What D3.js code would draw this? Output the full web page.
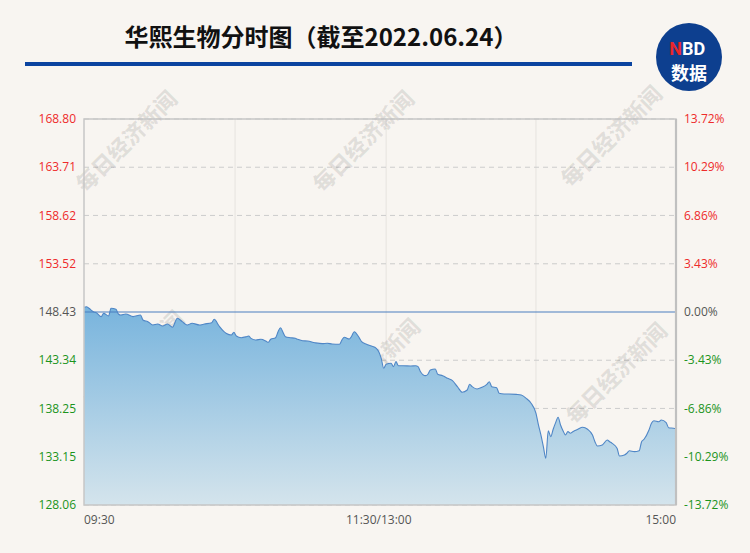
<!DOCTYPE html>
<html>
<head>
<meta charset="utf-8">
<script src="https://cdn.jsdelivr.net/npm/d3@7/dist/d3.min.js"></script>
<style>
html,body{margin:0;padding:0;background:#f8f5f1;}
svg{display:block;}
</style>
</head>
<body>
<svg id="chart" width="750" height="553"></svg>
<script>
// ---- data ----
const titleText = "华熙生物分时图（截至2022.06.24）";
const prevClose = 148.43;
const priceTicks = [168.80, 163.71, 158.62, 153.52, 148.43, 143.34, 138.25, 133.15, 128.06];
const pctTicks = ["13.72%", "10.29%", "6.86%", "3.43%", "0.00%", "-3.43%", "-6.86%", "-10.29%", "-13.72%"];
const timeLabels = ["09:30", "11:30/13:00", "15:00"];
const timeLabelMinutes = [0, 120, 241];
const gridMinutes = [61.5, 123, 184];
// minute index since 09:30 (trading minutes, 0..241)
const minutes = [0,1,2,4,5,7,8,10,11,13,14,15,17,20,23,24,26,28,30,32,34,36,38,40,42,44,47,49,52,53,55,57,58,60,61,62,64,66,67,68,70,72,74,75,76,78,79,80,81,82,84,86,87,89,91,94,97,99,101,104,105,106,108,109,110,112,113,115,117,119,120,121,122,123,125,126,127,128,130,133,135,136,137,139,140,141,143,144,146,148,150,152,154,156,157,158,160,162,164,165,166,168,169,171,173,176,178,180,182,184,185,186,187,188,189,190,191,192,193,194,195,196,197,198,199,201,203,205,207,208,209,211,213,214,215,217,218,220,221,222,224,226,227,228,230,231,232,234,235,237,238,240,241];
const prices = [148.93,148.99,148.82,148.43,148.36,147.94,148.29,148.01,148.82,148.72,148.22,148.11,148.22,147.94,148.11,147.59,147.41,147.06,147.16,146.95,147.16,146.82,147.77,147.41,147.06,147.24,147.06,147.16,147.30,147.66,146.95,146.35,146.16,146.00,146.29,145.90,145.72,145.82,145.90,145.65,145.48,145.55,145.37,145.23,145.55,145.72,146.35,146.77,146.29,145.82,145.72,145.65,145.55,145.40,145.37,145.19,145.09,145.13,145.05,145.02,145.48,145.76,145.58,145.90,146.35,145.72,145.30,145.02,144.84,144.60,144.24,143.54,142.49,142.91,143.02,142.66,143.19,142.76,142.76,142.73,142.76,142.66,142.13,141.71,141.86,142.31,142.42,141.86,141.71,141.43,141.18,140.55,139.96,140.20,140.80,140.55,140.30,140.48,140.80,141.07,140.55,140.44,139.85,139.78,139.78,139.74,139.67,139.32,138.80,137.74,136.51,135.45,134.22,132.99,135.90,135.27,136.05,136.75,137.32,136.51,135.90,135.45,135.80,135.63,135.80,136.05,136.26,136.05,135.45,134.74,134.29,134.39,134.92,134.74,134.57,134.05,133.23,133.34,133.52,133.79,133.69,133.79,134.74,135.00,135.98,136.68,136.96,136.85,137.03,136.75,136.22,136.16,136.11];
const watermark = "每日经济新闻";
const watermarkCenters = [[125,140],[362,140],[610,135],[132,360],[368,368],[615,372]];

// ---- layout ----
const svg = d3.select("#chart");
const W = 750, H = 553;
const L = 84, R = 676, T = 119, B = 505;
const RED = "#ee2b2b", GREEN = "#1c941c", GREY = "#555555";

svg.append("rect").attr("width", W).attr("height", H).attr("fill", "#f8f5f1");

const x = d3.scaleLinear().domain([0, 241]).range([L, R]);
const y = d3.scaleLinear().domain([priceTicks[priceTicks.length-1], priceTicks[0]]).range([B, T]);

const data = minutes.map((m, i) => ({m, p: prices[i]}));

// gradient
const defs = svg.append("defs");
const grad = defs.append("linearGradient").attr("id", "areaGrad")
  .attr("gradientUnits", "userSpaceOnUse")
  .attr("x1", 0).attr("x2", 0).attr("y1", y(d3.max(prices))).attr("y2", B);
grad.append("stop").attr("offset", "0%").attr("stop-color", "#78b4dd");
grad.append("stop").attr("offset", "100%").attr("stop-color", "#d4e4ec");

// vertical grid
svg.append("g").selectAll("line").data(gridMinutes).join("line")
  .attr("x1", d => x(d)).attr("x2", d => x(d)).attr("y1", T).attr("y2", B)
  .attr("stroke", "#e6e3df").attr("stroke-width", 1);

// horizontal dashed grid
svg.append("g").selectAll("line").data(priceTicks.filter(v => v !== prevClose)).join("line")
  .attr("x1", L).attr("x2", R).attr("y1", d => y(d)).attr("y2", d => y(d))
  .attr("stroke", "#cccccc").attr("stroke-width", 1).attr("stroke-dasharray", "5,4");

// watermarks
const wm = svg.append("g");
watermarkCenters.forEach(c => {
  wm.append("text").attr("transform", `translate(${c[0]},${c[1]}) rotate(-45)`)
    .attr("text-anchor", "middle").attr("dominant-baseline", "central")
    .attr("font-family", "Noto Sans CJK SC").attr("font-weight", "900")
    .attr("font-size", 22).attr("fill", "#000").attr("fill-opacity", 0.09)
    .text(watermark);
});

// area + line
const curve = d3.curveMonotoneX;
const area = d3.area().x(d => x(d.m)).y0(B).y1(d => y(d.p)).curve(curve);
const line = d3.line().x(d => x(d.m)).y(d => y(d.p)).curve(curve);
svg.append("path").datum(data).attr("d", area).attr("fill", "url(#areaGrad)");

// baseline (prev close)
svg.append("line").attr("x1", L).attr("x2", R).attr("y1", y(prevClose)).attr("y2", y(prevClose))
  .attr("stroke", "#4a7fc0").attr("stroke-width", 1.2);

svg.append("path").datum(data).attr("d", line).attr("fill", "none")
  .attr("stroke", "#4f86c6").attr("stroke-width", 1.1);

// plot border
svg.append("rect").attr("x", L).attr("y", T).attr("width", R - L).attr("height", B - T)
  .attr("fill", "none").attr("stroke", "#c6c6c6").attr("stroke-width", 1.5);
svg.append("line").attr("x1", R).attr("x2", R).attr("y1", T).attr("y2", B)
  .attr("stroke", "#c0c0c0").attr("stroke-width", 2.2);

// y labels
const colorFor = v => v > prevClose ? RED : (v < prevClose ? GREEN : GREY);
svg.append("g").selectAll("text").data(priceTicks).join("text")
  .attr("x", L - 8).attr("y", d => y(d)).attr("dy", "0.35em")
  .attr("text-anchor", "end").attr("font-family", "Open Sans, Noto Sans, sans-serif").attr("font-size", 12)
  .attr("fill", d => colorFor(d)).text(d => d.toFixed(2));
svg.append("g").selectAll("text").data(pctTicks).join("text")
  .attr("x", R + 8).attr("y", (d, i) => y(priceTicks[i])).attr("dy", "0.35em")
  .attr("text-anchor", "start").attr("font-family", "Open Sans, Noto Sans, sans-serif").attr("font-size", 12)
  .attr("fill", (d, i) => colorFor(priceTicks[i])).text(d => d);

// x labels
svg.append("g").selectAll("text").data(timeLabels).join("text")
  .attr("x", (d, i) => x(timeLabelMinutes[i]))
  .attr("y", B + 19)
  .attr("text-anchor", (d, i) => i === 0 ? "start" : (i === timeLabels.length - 1 ? "end" : "middle"))
  .attr("font-family", "Open Sans, Noto Sans, sans-serif").attr("font-size", 12)
  .attr("fill", GREY).text(d => d);

// title
svg.append("text").attr("x", 321).attr("y", 46).attr("text-anchor", "middle")
  .attr("font-family", "Noto Sans CJK SC").attr("font-weight", "bold").attr("font-size", 24)
  .attr("fill", "#111").text(titleText);
svg.append("rect").attr("x", 25).attr("y", 62).attr("width", 607).attr("height", 4).attr("fill", "#0b44a0");

// logo
const logo = svg.append("g");
logo.append("ellipse").attr("cx", 689).attr("cy", 57).attr("rx", 33).attr("ry", 34).attr("fill", "#0d3f8f");
logo.append("text").attr("x", 682).attr("y", 55).attr("text-anchor", "end")
  .attr("font-family", "Roboto, Noto Sans, sans-serif").attr("font-weight", "bold").attr("font-size", 18)
  .attr("fill", "#e8262b").text("N");
logo.append("text").attr("x", 682).attr("y", 55).attr("text-anchor", "start")
  .attr("font-family", "Roboto, Noto Sans, sans-serif").attr("font-weight", "bold").attr("font-size", 18)
  .attr("fill", "#ffffff").text("BD");
logo.append("text").attr("x", 689).attr("y", 80).attr("text-anchor", "middle")
  .attr("font-family", "Noto Sans CJK SC").attr("font-weight", "bold").attr("font-size", 18)
  .attr("fill", "#ffffff").text("数据");
</script>
</body>
</html>
